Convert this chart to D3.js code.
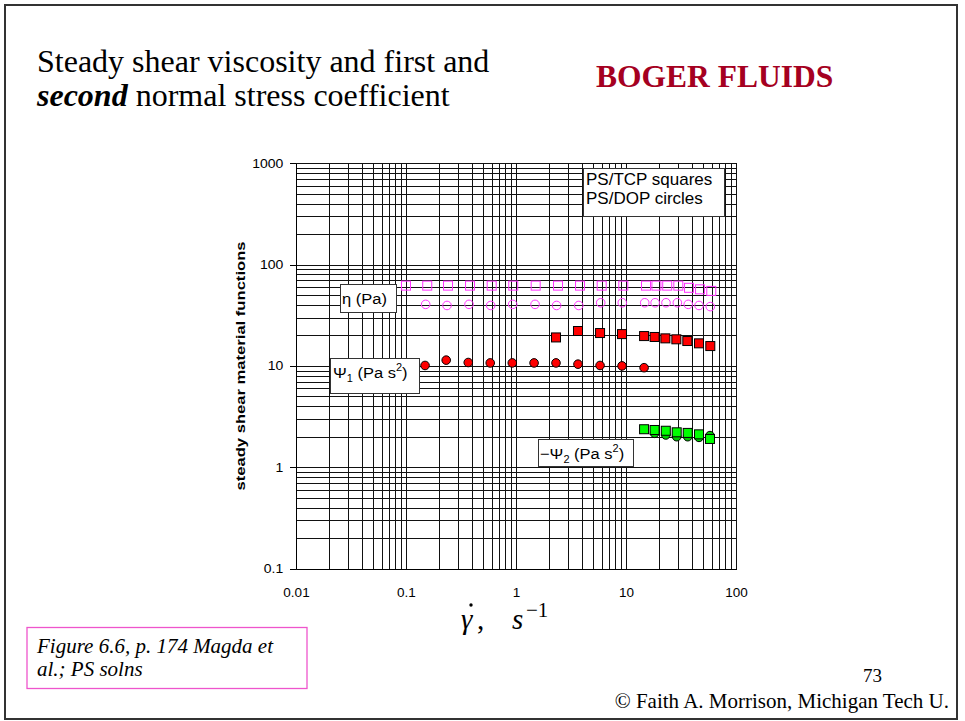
<!DOCTYPE html>
<html><head><meta charset="utf-8">
<script src="https://cdn.jsdelivr.net/npm/d3@7"></script>
<style>body{margin:0;background:#fff}svg{display:block}</style>
</head><body>
<svg id="slide" width="965" height="721"></svg>
<script>
// Shear rate (1/s) and material functions for the two Boger fluids
const etaTCP_x = [0.1, 0.156, 0.241, 0.382, 0.601, 0.944, 1.51, 2.41, 3.82, 6.01, 9.45, 15.2, 18.9, 23.7, 29.9, 37.4, 47.1, 59.6];
const etaTCP_y = [62, 62, 62, 62, 62, 62, 62, 62, 62, 62, 62, 62, 62, 62, 62, 59, 57, 55];

const etaDOP_x = [0.151, 0.236, 0.374, 0.589, 0.933, 1.49, 2.34, 3.72, 5.89, 9.25, 14.8, 18.4, 23.1, 29.3, 36.8, 46.1, 58.4];
const etaDOP_y = [40.5, 39.5, 40.5, 39.5, 40.5, 40.5, 39.5, 39.5, 42, 42, 42, 42, 42, 42, 40.5, 39.5, 38.5];

const psi1TCP_x = [2.31, 3.66, 5.81, 9.2, 14.6, 18.2, 22.8, 28.7, 36.1, 46.1, 58.4];
const psi1TCP_y = [19.1, 22.1, 21.1, 20.6, 19.7, 19.3, 18.7, 18.3, 17.6, 16.7, 15.7];

const psi1DOP_x = [0.149, 0.232, 0.368, 0.583, 0.925, 1.46, 2.31, 3.66, 5.81, 9.2, 14.6];
const psi1DOP_y = [10.1, 11.4, 10.8, 10.7, 10.7, 10.7, 10.7, 10.4, 10.1, 10.0, 9.6];

const psi2TCP_x = [14.6, 18.2, 23.0, 28.9, 36.4, 46.1, 58.0];
const psi2TCP_y = [2.37, 2.33, 2.29, 2.21, 2.18, 2.11, 1.90];

const psi2DOP_x = [18.2, 23.0, 28.9, 36.4, 46.1, 58.0];
const psi2DOP_y = [2.16, 2.08, 2.00, 2.00, 1.97, 2.05];

const xTicks = [0.01, 0.1, 1, 10, 100];
const xTickLabels = ["0.01", "0.1", "1", "10", "100"];
const yTicks = [0.1, 1, 10, 100, 1000];
const yTickLabels = ["0.1", "1", "10", "100", "1000"];

const svg = d3.select("#slide");
const SANS = "Arial, 'Liberation Sans', sans-serif";
const SERIF = "'Times New Roman', 'Liberation Serif', serif";

// slide frame
svg.append("rect").attr("x", 5).attr("y", 5).attr("width", 952).attr("height", 714)
  .attr("fill", "#fff").attr("stroke", "#333").attr("stroke-width", 2);

// titles
const t1 = svg.append("text").attr("x", 37).attr("y", 72).attr("font-family", SERIF)
  .attr("font-size", 32).attr("fill", "#000");
t1.append("tspan").text("Steady shear viscosity and first and");
const t2 = svg.append("text").attr("x", 37).attr("y", 106).attr("font-family", SERIF)
  .attr("font-size", 32).attr("fill", "#000");
t2.append("tspan").attr("font-weight", "bold").attr("font-style", "italic").text("second");
t2.append("tspan").text(" normal stress coefficient");

svg.append("text").attr("x", 596).attr("y", 87).attr("font-family", SERIF)
  .attr("font-size", 31.5).attr("font-weight", "bold").attr("fill", "#a50021").text("BOGER FLUIDS");

// scales
const x = d3.scaleLog().domain([0.01, 100]).range([296, 736]);
const y = d3.scaleLog().domain([0.1, 1000]).range([568.5, 163.3]);
const [x0, x1] = x.range();
const [y0, y1] = y.range();

const gridVals = [];
for (let e = -2; e <= 3; e++) for (let k = 1; k <= 9; k++) gridVals.push(+(k * Math.pow(10, e)).toPrecision(3));
const xGrid = gridVals.filter(v => v >= 0.01 && v <= 100);
const yGrid = gridVals.filter(v => v >= 0.1 && v <= 1000);

const plot = svg.append("g");
plot.append("rect").attr("x", x0).attr("y", y1).attr("width", x1 - x0).attr("height", y0 - y1).attr("fill", "#fff");

// gridlines through the axis generators
plot.append("g").attr("transform", `translate(0,${y0})`)
  .call(d3.axisBottom(x).tickValues(xGrid).tickSize(-(y0 - y1)).tickFormat("").tickSizeOuter(0))
  .call(g => g.select(".domain").remove())
  .call(g => g.selectAll("line").attr("stroke", "#111").attr("shape-rendering", "crispEdges"));
plot.append("g").attr("transform", `translate(${x0},0)`)
  .call(d3.axisLeft(y).tickValues(yGrid).tickSize(-(x1 - x0)).tickFormat("").tickSizeOuter(0))
  .call(g => g.select(".domain").remove())
  .call(g => g.selectAll("line").attr("stroke", "#111").attr("shape-rendering", "crispEdges"));

// y axis with labelled decades
const yAxis = plot.append("g").attr("transform", `translate(${x0},0)`)
  .call(d3.axisLeft(y).tickValues(yTicks).tickFormat((d, i) => yTickLabels[i]).tickSize(6).tickPadding(6.7).tickSizeOuter(0));
yAxis.select(".domain").attr("stroke", "#000").attr("shape-rendering", "crispEdges");
yAxis.selectAll("line").attr("stroke", "#000").attr("shape-rendering", "crispEdges");
yAxis.selectAll("text").attr("font-family", SANS).attr("font-size", 12.5).attr("fill", "#000")
  .each(function () {
    const t = d3.select(this);
    const tx = +t.attr("x");
    t.attr("x", 0).attr("transform", `translate(${tx},0) scale(1.12,1)`);
  });

// x axis
const xAxis = plot.append("g").attr("transform", `translate(0,${y0})`)
  .call(d3.axisBottom(x).tickValues(xTicks).tickFormat((d, i) => xTickLabels[i]).tickSize(0).tickPadding(18).tickSizeOuter(0));
xAxis.select(".domain").attr("stroke", "#000").attr("shape-rendering", "crispEdges");
xAxis.selectAll("text").attr("font-family", SANS).attr("font-size", 13.5).attr("fill", "#000").attr("dy", 0)
  .attr("y", 28);

// y axis title
svg.append("g").attr("transform", "translate(245,366) rotate(-90) scale(1.23,1)")
  .append("text").attr("text-anchor", "middle").attr("font-family", SANS).attr("font-weight", "bold")
  .attr("font-size", 13.5).attr("fill", "#000").text("steady shear material functions");

// x axis title: shear rate (gamma with an over-dot) in s^-1
const xl = svg.append("g").attr("font-family", SERIF).attr("fill", "#000");
xl.append("text").attr("x", 461).attr("y", 629).attr("font-size", 29).attr("font-style", "italic").text("\u03B3");
xl.append("circle").attr("cx", 471).attr("cy", 605).attr("r", 1.7).attr("fill", "#000");
xl.append("text").attr("x", 477).attr("y", 629).attr("font-size", 29).text(",");
xl.append("text").attr("x", 512).attr("y", 629).attr("font-size", 29).attr("font-style", "italic").text("s");
xl.append("text").attr("x", 526).attr("y", 616.5).attr("font-size", 21).text("\u22121");

// series markers
function zip(xs, ys) { return xs.map((v, i) => ({ x: v, y: ys[i] })); }
const marks = plot.append("g");
const sq = 9, rad = 4.3;

function squares(data, fill, stroke) {
  marks.append("g").selectAll("rect").data(data).join("rect")
    .attr("x", d => x(d.x) - sq / 2).attr("y", d => y(d.y) - sq / 2)
    .attr("width", sq).attr("height", sq)
    .attr("fill", fill).attr("stroke", stroke).attr("stroke-width", 1);
}
function circles(data, fill, stroke) {
  marks.append("g").selectAll("circle").data(data).join("circle")
    .attr("cx", d => x(d.x)).attr("cy", d => y(d.y)).attr("r", rad)
    .attr("fill", fill).attr("stroke", stroke).attr("stroke-width", 1);
}

squares(zip(etaTCP_x, etaTCP_y), "none", "#ff33ff");
circles(zip(etaDOP_x, etaDOP_y), "none", "#ff33ff");
squares(zip(psi1TCP_x, psi1TCP_y), "#ff0000", "#000");
circles(zip(psi1DOP_x, psi1DOP_y), "#ff0000", "#000");
circles(zip(psi2DOP_x, psi2DOP_y), "#00cc00", "#000");
squares(zip(psi2TCP_x, psi2TCP_y), "#00ff00", "#000");

// text boxes inside the plot
function box(bx, by, bw, bh) {
  svg.append("rect").attr("x", bx + 0.5).attr("y", by + 0.5).attr("width", bw).attr("height", bh)
    .attr("fill", "#fff").attr("stroke", "#333").attr("stroke-width", 1);
}

box(583, 168, 141, 48);
svg.append("text").attr("x", 586).attr("y", 184.5).attr("font-family", SANS).attr("font-size", 17).text("PS/TCP squares");
svg.append("text").attr("x", 586).attr("y", 203.5).attr("font-family", SANS).attr("font-size", 17).text("PS/DOP circles");

box(340, 284, 56, 28);
svg.append("g").attr("transform", "translate(342,303.5) scale(1.1,1)")
  .append("text").attr("font-family", SANS).attr("font-size", 15).text("\u03B7 (Pa)");

box(330, 358, 89, 35);
const p1 = svg.append("g").attr("transform", "translate(333,377.5) scale(1.1,1)")
  .append("text").attr("font-family", SANS).attr("font-size", 15);
p1.append("tspan").text("\u03A8");
p1.append("tspan").attr("font-size", 10).attr("dy", 4).text("1");
p1.append("tspan").attr("dy", -4).text(" (Pa s");
p1.append("tspan").attr("font-size", 10).attr("dy", -7).text("2");
p1.append("tspan").attr("dy", 7).text(")");

box(538, 439, 95, 27);
const p2 = svg.append("g").attr("transform", "translate(540,459) scale(1.1,1)")
  .append("text").attr("font-family", SANS).attr("font-size", 15);
p2.append("tspan").text("\u2212\u03A8");
p2.append("tspan").attr("font-size", 10).attr("dy", 4).text("2");
p2.append("tspan").attr("dy", -4).text(" (Pa s");
p2.append("tspan").attr("font-size", 10).attr("dy", -7).text("2");
p2.append("tspan").attr("dy", 7).text(")");

// source caption
svg.append("rect").attr("x", 27).attr("y", 627.5).attr("width", 280).attr("height", 61)
  .attr("fill", "none").attr("stroke", "#ee55cc").attr("stroke-width", 1.3);
svg.append("text").attr("x", 37).attr("y", 653).attr("font-family", SERIF).attr("font-style", "italic")
  .attr("font-size", 21).text("Figure 6.6, p. 174 Magda et");
svg.append("text").attr("x", 37).attr("y", 676).attr("font-family", SERIF).attr("font-style", "italic")
  .attr("font-size", 21).text("al.; PS solns");

// page number and credit
svg.append("text").attr("x", 863).attr("y", 682).attr("font-family", SERIF).attr("font-size", 19).text("73");
svg.append("text").attr("x", 949).attr("y", 708).attr("text-anchor", "end").attr("font-family", SERIF)
  .attr("font-size", 21).text("\u00A9 Faith A. Morrison, Michigan Tech U.");
</script>
</body></html>
